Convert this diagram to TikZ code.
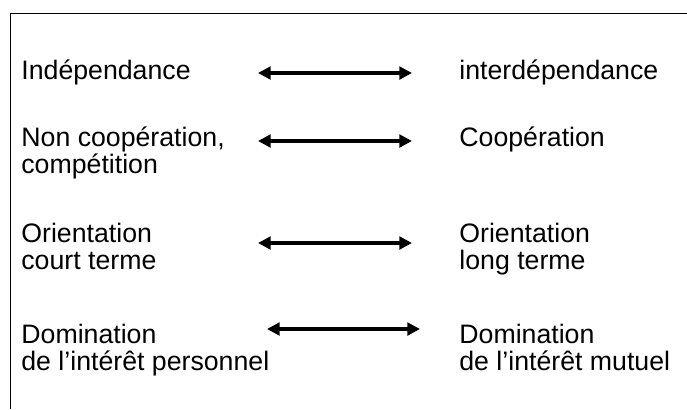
\documentclass[tikz,border=0pt]{standalone}
\usepackage{fontspec}
\setmainfont{Liberation Sans}
\usetikzlibrary{arrows.meta}

\tikzset{
  term/.style={anchor=base west, inner sep=0pt, align=left,
    font=\fontsize{13.35}{13.5}\selectfont},
  link/.style={{Triangle[length=6.3pt,width=6.3pt]}-{Triangle[length=6.3pt,width=6.3pt]},
    line width=1.9pt},
}

\begin{document}
\begin{tikzpicture}[x=0.5pt, y=-0.5pt]
        \useasboundingbox (0,0) rectangle (687,409);

        % Frame (top and left side only)
        \draw[line width=0.6pt] (10.5,409) -- (10.5,13.5) -- (687,13.5);

        % Left column (base = last line)
        \node[term] (indep) at (21,79) {Indépendance};
        \node[term] (noncoop) at (21,173) {Non coopération,\\compétition};
        \node[term] (court) at (21,269) {Orientation\\court terme};
        \node[term] (dompers) at (21,370.5) {Domination\\de l’intérêt personnel};

        % Right column
        \node[term] (interdep) at (459,79) {interdépendance};
        \node[term] (coop) at (459,146) {Coopération};
        \node[term] (long) at (459,269) {Orientation\\long terme};
        \node[term] (dommut) at (459,370.5) {Domination\\de l’intérêt mutuel};

        % Double Arrows
        \foreach \n/\y/\xa/\xb in {1/73/258/412, 2/141/258/412, 3/243/258/412, 4/329/267/420} {
            \coordinate (a\n) at (\xa,\y);
            \coordinate (b\n) at (\xb,\y);
            \draw[link] (a\n) -- (b\n);
        }
\end{tikzpicture}
\end{document}
